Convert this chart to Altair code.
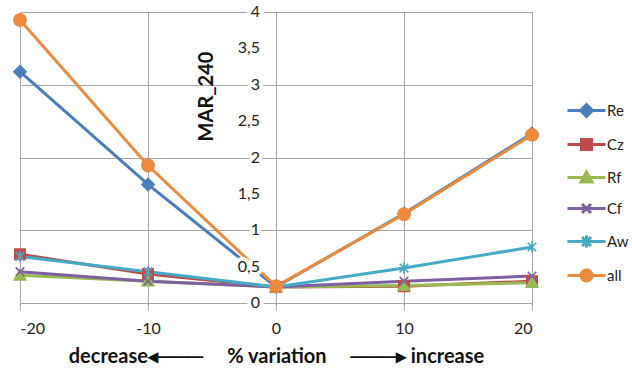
import altair as alt
import pandas as pd

x_vals = [-20, -10, 0, 10, 20]
series = ["Re", "Cz", "Rf", "Cf", "Aw", "all"]
re_vals = [3.18, 1.63, 0.22, 1.23, 2.33]
cz_vals = [0.67, 0.40, 0.22, 0.23, 0.30]
rf_vals = [0.38, 0.30, 0.22, 0.24, 0.28]
cf_vals = [0.43, 0.30, 0.22, 0.30, 0.37]
aw_vals = [0.64, 0.43, 0.22, 0.48, 0.77]
all_vals = [3.89, 1.89, 0.23, 1.22, 2.31]
y_ticks = [0, 0.5, 1, 1.5, 2, 2.5, 3, 3.5, 4]
y_tick_labels = ["0", "0,5", "1", "1,5", "2", "2,5", "3", "3,5", "4"]

colors = ["#4A7EBB", "#BE4B48", "#98B954", "#7D60A0", "#46AAC5", "#EC8A3E"]

plot_shapes = [
    "M0,-1L1,0L0,1L-1,0Z",
    "M-0.85,-0.85H0.85V0.85H-0.85Z",
    "M0,-0.95L0.95,0.75H-0.95Z",
    "M-0.7,-0.7L0.7,0.7M-0.7,0.7L0.7,-0.7",
    "M-0.7,-0.7L0.7,0.7M-0.7,0.7L0.7,-0.7M0,-0.95V0.95",
    "circle",
]
legend_shapes = [
    "M-3.8,0H3.8M0,-1.2L1.2,0L0,1.2L-1.2,0Z",
    "M-3.8,0H3.8M-1,-1H1V1H-1Z",
    "M-3.8,0H3.8M0,-1.1L1.1,0.9H-1.1Z",
    "M-3.8,0H3.8M-0.9,-0.9L0.9,0.9M-0.9,0.9L0.9,-0.9",
    "M-3.8,0H3.8M-0.9,-0.9L0.9,0.9M-0.9,0.9L0.9,-0.9M0,-1.2V1.2",
    "M-3.8,0H3.8M1.1,0A1.1,1.1 0 1,1 -1.1,0A1.1,1.1 0 1,1 1.1,0Z",
]

vals = [re_vals, cz_vals, rf_vals, cf_vals, aw_vals, all_vals]
rows = []
for i, (s, v) in enumerate(zip(series, vals)):
    for x, y in zip(x_vals, v):
        rows.append({"x": x, "y": y, "series": s, "series2": s, "order": i})
df = pd.DataFrame(rows)
ydf = pd.DataFrame({"y": y_ticks, "lab": y_tick_labels})

FONT = "Lato"
GRID = "#A6A6A6"
NB = "\u00a0"
x_title = "decrease◂───" + NB * 5 + "% variation" + NB * 5 + "───▸" + NB + "increase"

x_enc = alt.X(
    "x:Q",
    scale=alt.Scale(domain=[-20, 20], nice=False, zero=False),
    axis=alt.Axis(
        values=x_vals, grid=True, domain=False,
        labelExpr="toString(datum.value)",
        tickSize=7, tickColor=GRID, gridColor=GRID,
        labelFontSize=16, labelColor="#222222", labelPadding=10, labelFont=FONT,
        title=x_title,
        titleFont=FONT, titleFontSize=20, titleFontWeight="bold", titleColor="#111111",
        titleX=256, titleY=53, titleAnchor="middle", titleAlign="center", titleBaseline="middle",
    ),
)
y_enc = alt.Y(
    "y:Q",
    scale=alt.Scale(domain=[0, 4], nice=False),
    axis=alt.Axis(
        values=y_ticks, offset=-256, grid=True, domain=True, labels=False, ticks=False,
        domainColor=GRID, gridColor=GRID,
        title="MAR_240", titleFont=FONT, titleFontSize=20, titleFontWeight="bold",
        titleColor="#111111", titleX=-70, titleY=84, titleAngle=270,
        titleAlign="center", titleBaseline="middle",
    ),
)

color_scale = alt.Scale(domain=series, range=colors)

lines = alt.Chart(df).mark_line(strokeWidth=3).encode(
    x=x_enc, y=y_enc,
    color=alt.Color("series:N", scale=color_scale, legend=None),
    detail="series:N",
)

points = alt.Chart(df).mark_point(filled=True, size=150, strokeWidth=1.6, opacity=1).encode(
    x="x:Q", y="y:Q",
    fill=alt.Fill("series:N", scale=color_scale, legend=None),
    stroke=alt.Stroke("series:N", scale=color_scale, legend=None),
    shape=alt.Shape("series:N", scale=alt.Scale(domain=series, range=plot_shapes), legend=None),
    order="order:Q",
)

halo = alt.Chart(ydf).mark_text(
    align="right", baseline="middle", dx=-16, fontSize=16, font=FONT,
    fill="white", stroke="white", strokeWidth=8, strokeJoin="round",
).encode(x=alt.datum(0), y="y:Q", text="lab:N")

ylabels = alt.Chart(ydf).mark_text(
    align="right", baseline="middle", dx=-16, fontSize=16, font=FONT, fill="#222222",
).encode(x=alt.datum(0), y="y:Q", text="lab:N")

legend_layer = alt.Chart(df).transform_filter("false").mark_point(filled=True, size=100, strokeWidth=3).encode(
    x="x:Q", y="y:Q",
    fill=alt.Fill("series2:N", scale=alt.Scale(domain=series, range=colors), legend=alt.Legend(title=None)),
    stroke=alt.Stroke("series2:N", scale=alt.Scale(domain=series, range=colors), legend=alt.Legend(title=None)),
    shape=alt.Shape("series2:N", scale=alt.Scale(domain=series, range=legend_shapes), legend=alt.Legend(title=None)),
)

chart = alt.layer(lines, points, halo, ylabels, legend_layer).resolve_scale(
    fill="independent", stroke="independent", shape="independent"
).properties(
    width=512, height=291,
    autosize=alt.AutoSizeParams(type="none"),
    padding={"left": 20, "top": 12, "right": 100, "bottom": 66},
).configure_view(stroke=None).configure_legend(
    orient="none", legendX=559, legendY=91,
    symbolSize=100, symbolStrokeWidth=3, labelOffset=13,
    labelFontSize=15, labelFont=FONT, labelColor="#222222",
    rowPadding=10, symbolOpacity=1,
)

chart.save("out.html", embed_options={"renderer": "svg", "actions": False})
